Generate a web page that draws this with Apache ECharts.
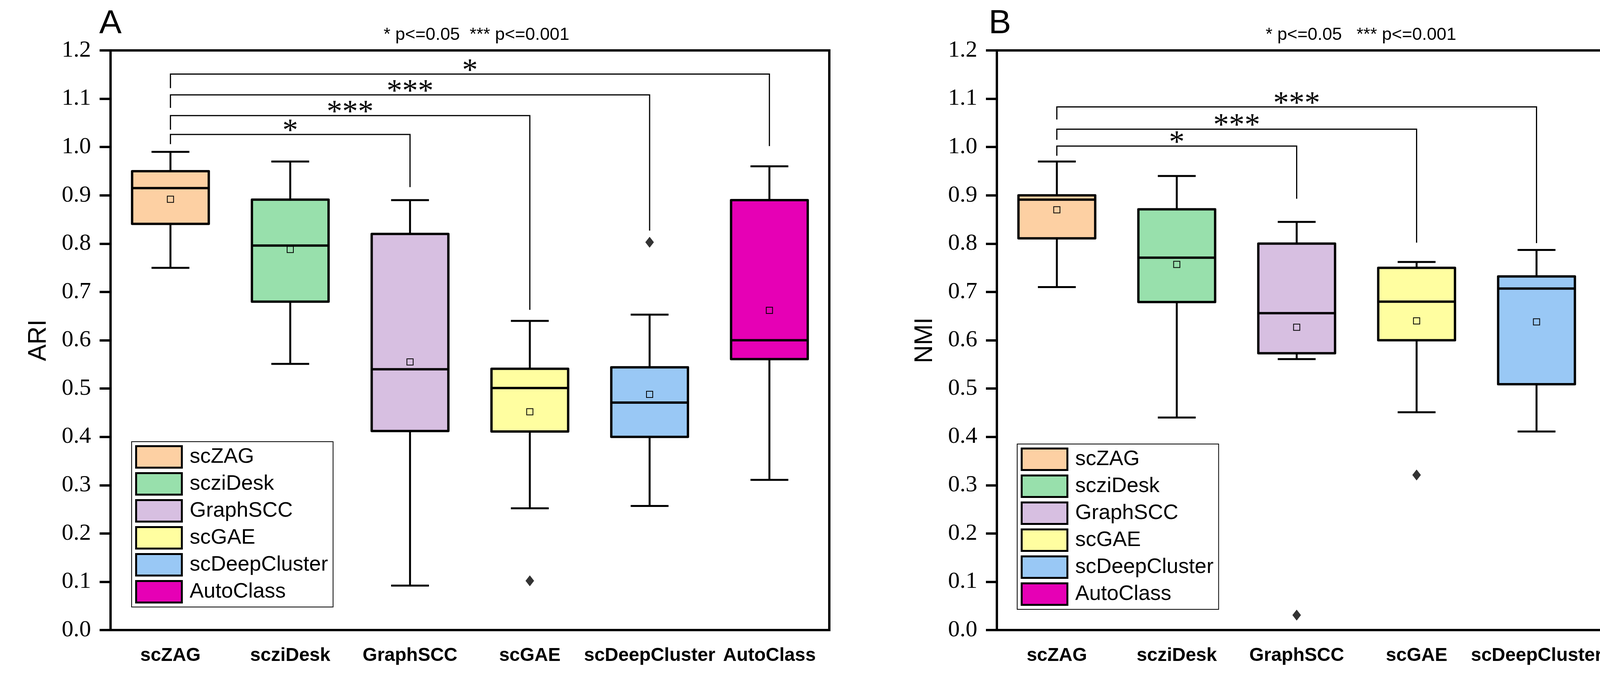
<!DOCTYPE html>
<html><head><meta charset="utf-8">
<script src="https://cdn.jsdelivr.net/npm/echarts@6/dist/echarts.min.js"></script>
<style>html,body{margin:0;padding:0;background:#fff}#c{width:4430px;height:1750px}</style>
</head><body><div id="c"></div>
<script>
const methods = ['scZAG', 'scziDesk', 'GraphSCC', 'scGAE', 'scDeepCluster', 'AutoClass'];
const colors = ['#FDD0A3', '#98E0AC', '#D7BFE1', '#FFFEA0', '#99C8F5', '#E600B5'];
const yTicks = [0, 1.2, 0.1]; // min, max, interval

// Panel A: ARI
const ariLow    = [0.750, 0.551, 0.092, 0.252, 0.257, 0.311];
const ariQ1     = [0.841, 0.680, 0.412, 0.411, 0.400, 0.561];
const ariMedian = [0.915, 0.796, 0.540, 0.501, 0.471, 0.600];
const ariQ3     = [0.950, 0.891, 0.820, 0.541, 0.544, 0.890];
const ariHigh   = [0.990, 0.970, 0.890, 0.640, 0.653, 0.960];
const ariMean   = [0.892, 0.788, 0.555, 0.452, 0.488, 0.662];
const ariOutliers = [[3, 0.102], [4, 0.803]];
// [fromIndex, toIndex, bar level, left end, right end]
const ariBrackets = [[0, 2, 1.026, 1.006, 0.917], [0, 3, 1.065, 1.036, 0.663], [0, 4, 1.108, 1.081, 0.827], [0, 5, 1.151, 1.122, 1.002]];
const ariBracketLabels = ['*', '***', '***', '*'];

// Panel B: NMI
const nmiLow    = [0.710, 0.440, 0.561, 0.451, 0.411, 0.521];
const nmiQ1     = [0.811, 0.679, 0.573, 0.600, 0.509, 0.725];
const nmiMedian = [0.891, 0.771, 0.656, 0.680, 0.707, 0.800];
const nmiQ3     = [0.900, 0.871, 0.800, 0.750, 0.732, 0.906];
const nmiHigh   = [0.970, 0.940, 0.845, 0.762, 0.787, 0.951];
const nmiMean   = [0.870, 0.757, 0.627, 0.640, 0.638, 0.796];
const nmiOutliers = [[2, 0.031], [3, 0.321]];
const nmiBrackets = [[0, 2, 1.002, 0.982, 0.893], [0, 3, 1.037, 1.015, 0.802], [0, 4, 1.083, 1.057, 0.801]];
const nmiBracketLabels = ['*', '***', '***'];

const chart = echarts.init(document.getElementById('c'));

function boxRender(params, api) {
  const idx = api.value(0);
  const lo = api.coord([idx, api.value(1)]);
  const q1 = api.coord([idx, api.value(2)]);
  const med = api.coord([idx, api.value(3)]);
  const q3 = api.coord([idx, api.value(4)]);
  const hi = api.coord([idx, api.value(5)]);
  const mn = api.coord([idx, api.value(6)]);
  const band = api.size([1, 0])[0];
  const bw = band * 0.64, cw = band * 0.316;
  const x = lo[0];
  const ls = {stroke: '#000', lineWidth: 5, fill: null};
  return {
    type: 'group',
    children: [
      {type: 'line', shape: {x1: x, y1: q3[1], x2: x, y2: hi[1]}, style: ls},
      {type: 'line', shape: {x1: x - cw / 2, y1: hi[1], x2: x + cw / 2, y2: hi[1]}, style: ls},
      {type: 'line', shape: {x1: x, y1: q1[1], x2: x, y2: lo[1]}, style: ls},
      {type: 'line', shape: {x1: x - cw / 2, y1: lo[1], x2: x + cw / 2, y2: lo[1]}, style: ls},
      {type: 'rect', shape: {x: x - bw / 2, y: q3[1], width: bw, height: q1[1] - q3[1]},
        style: {fill: api.visual('color'), stroke: '#000', lineWidth: 6, lineJoin: 'round'}},
      {type: 'line', shape: {x1: x - bw / 2, y1: med[1], x2: x + bw / 2, y2: med[1]}, style: {stroke: '#000', lineWidth: 6}},
      {type: 'rect', shape: {x: x - 8, y: mn[1] - 8, width: 16, height: 16}, style: {fill: null, stroke: '#000', lineWidth: 2}}
    ]
  };
}

function bracketRender(labels) {
  return function (params, api) {
    const a = api.value(0), b = api.value(1);
    const lvl = api.value(2), le = api.value(3), re = api.value(4);
    const p0 = api.coord([a, lvl]), p1 = api.coord([b, lvl]);
    const l0 = api.coord([a, le]), r0 = api.coord([b, re]);
    return {
      type: 'group',
      children: [
        {type: 'polyline', shape: {points: [[p0[0], l0[1]], [p0[0], p0[1]], [p1[0], p1[1]], [p1[0], r0[1]]]},
          style: {stroke: '#000', lineWidth: 3, fill: null}},
        {type: 'text', style: {text: labels[params.dataIndex], x: (p0[0] + p1[0]) / 2, y: p0[1] - 6,
          align: 'center', verticalAlign: 'middle', fill: '#000', font: 'normal 80px "Liberation Serif", serif'}}
      ]
    };
  };
}

function panelSeries(k, low, q1, med, q3, high, mean, outliers, brackets, labels) {
  const s = methods.map((m, i) => ({
    type: 'custom', name: m, xAxisIndex: k, yAxisIndex: k,
    itemStyle: {color: colors[i]},
    renderItem: boxRender,
    encode: {x: 0, y: [1, 2, 3, 4, 5, 6]},
    data: [[i, low[i], q1[i], med[i], q3[i], high[i], mean[i]]],
    z: 2
  }));
  s.push({type: 'scatter', xAxisIndex: k, yAxisIndex: k, symbol: 'diamond', symbolSize: [22, 28],
    itemStyle: {color: '#000'}, data: outliers, z: 3, silent: true});
  s.push({type: 'custom', xAxisIndex: k, yAxisIndex: k, renderItem: bracketRender(labels),
    encode: {x: [0, 1], y: [2, 3, 4]}, data: brackets, z: 4, silent: true});
  return s;
}

function xAx(k) {
  return {type: 'category', gridIndex: k, data: methods, boundaryGap: true,
    axisLine: {lineStyle: {color: '#000', width: 6}},
    axisTick: {alignWithLabel: true, length: 28, lineStyle: {color: '#000', width: 6}},
    axisLabel: {interval: 0, color: '#000', fontFamily: 'Liberation Sans', fontWeight: 'bold', fontSize: 48, margin: 42},
    splitLine: {show: false}};
}
function yAx(k, name) {
  return {type: 'value', gridIndex: k, min: yTicks[0], max: yTicks[1], interval: yTicks[2],
    name: name, nameLocation: 'middle', nameGap: 152,
    nameTextStyle: {color: '#000', fontFamily: 'Liberation Sans', fontSize: 64},
    axisLine: {show: true, lineStyle: {color: '#000', width: 6}},
    axisTick: {show: true, length: 28, lineStyle: {color: '#000', width: 6}},
    axisLabel: {color: '#000', fontFamily: 'Liberation Serif', fontSize: 60, margin: 50, formatter: v => v.toFixed(1)},
    splitLine: {show: false}};
}
function legendAt(k, left, top) {
  return {data: methods, orient: 'vertical', left: left, top: top, itemWidth: 117, itemHeight: 55, itemGap: 9,
    padding: [9, 7, 9, 9], borderColor: '#000', borderWidth: 2, icon: 'rect', selectedMode: false,
    itemStyle: {borderColor: '#000', borderWidth: 5},
    textStyle: {fontSize: 54, lineHeight: 56, fontFamily: 'Liberation Sans', color: '#000', padding: [0, 6, 0, 15]}};
}

chart.setOption({
  backgroundColor: '#fff',
  animation: false,
  title: [
    {text: 'A', left: 254, top: 18, padding: 0, textStyle: {fontSize: 86, fontWeight: 'normal', fontFamily: 'Liberation Sans', color: '#000'}},
    {text: '* p<=0.05  *** p<=0.001', left: 982, top: 67, padding: 0, textStyle: {fontSize: 45, fontWeight: 'normal', fontFamily: 'Liberation Sans', color: '#000'}},
    {text: 'B', left: 2531, top: 18, padding: 0, textStyle: {fontSize: 86, fontWeight: 'normal', fontFamily: 'Liberation Sans', color: '#000'}},
    {text: '* p<=0.05   *** p<=0.001', left: 3240, top: 67, padding: 0, textStyle: {fontSize: 45, fontWeight: 'normal', fontFamily: 'Liberation Sans', color: '#000'}}
  ],
  grid: [
    {left: 283, right: 4430 - 2123, top: 129, bottom: 1750 - 1612, show: true, borderColor: '#000', borderWidth: 6, containLabel: false},
    {left: 2552, right: 4430 - 4394, top: 129, bottom: 1750 - 1612, show: true, borderColor: '#000', borderWidth: 6, containLabel: false}
  ],
  xAxis: [xAx(0), xAx(1)],
  yAxis: [yAx(0, 'ARI'), yAx(1, 'NMI')],
  legend: [legendAt(0, 337, 1130), legendAt(1, 2604, 1136)],
  series: [].concat(
    panelSeries(0, ariLow, ariQ1, ariMedian, ariQ3, ariHigh, ariMean, ariOutliers, ariBrackets, ariBracketLabels),
    panelSeries(1, nmiLow, nmiQ1, nmiMedian, nmiQ3, nmiHigh, nmiMean, nmiOutliers, nmiBrackets, nmiBracketLabels)
  )
});
</script>
</body></html>
